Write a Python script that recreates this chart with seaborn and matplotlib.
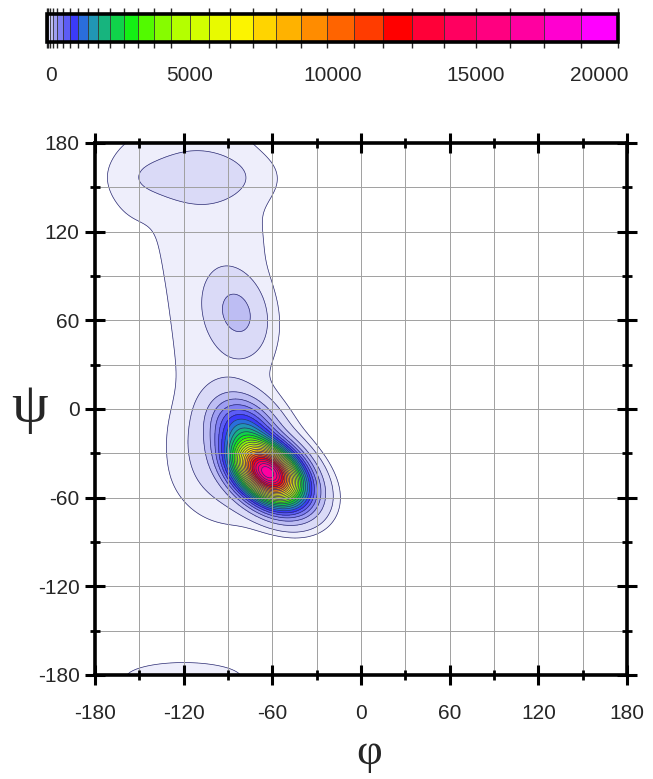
import numpy as np
import matplotlib
matplotlib.use("Agg")
import matplotlib.pyplot as plt
import matplotlib.transforms as mtransforms
from matplotlib.colors import ListedColormap, BoundaryNorm
from matplotlib.cm import ScalarMappable
import seaborn as sns

sns.set_theme(style="white")
plt.rcParams["font.family"] = ["Liberation Sans", "DejaVu Sans"]
plt.rcParams["axes.unicode_minus"] = False

# Count levels (box edges of the colour scale)
levels = [0, 22, 89, 200, 356, 556, 800, 1089, 1422, 1800, 2222, 2689, 3200,
          3756, 4356, 5000, 5689, 6422, 7200, 8022, 8889, 9800, 10756, 11756,
          12800, 13889, 15022, 16200, 17422, 18689, 20000]
level_colors = ["#eeeefb", "#dadaf7", "#bdbdf3", "#9e9ef2", "#7f7ff3", "#5c5cf5",
                "#3b3bf8", "#2a6edc", "#2196b4", "#17b47e", "#10d24a", "#14f014",
                "#52fa00", "#86fc00", "#b4ff00", "#d2ff00", "#e8fa00", "#fcf400",
                "#ffd400", "#ffb200", "#ff8c00", "#ff6400", "#ff3c00", "#ff0000",
                "#ff0038", "#ff0060", "#ff0080", "#ff00a0", "#ff00d0", "#ff00ff"]
cbar_labels = ["0", "5000", "10000", "15000", "20000"]
cbar_label_at = [140, 5000, 10000, 15000, 19330]

# Population regions of the (phi, psi) map: centre, height, spread, tilt
region_names = ["alpha core", "alpha shoulder", "alpha halo", "alpha base",
                "PII", "beta", "beta edge", "col -40", "col 0", "col 60",
                "col 120", "col 175", "bottom strip"]
region_phi = [-63, -78, -80, -68, -84, -112, -155, -93, -93, -96, -102, -112, -120]
region_psi = [-43, -18, -30, -52, 65, 157, 155, -40, 0, 60, 120, 175, -182]
region_height = [17000, 1500, 60, 12, 115, 34, 7, 10, 10, 10, 10, 10, 14]
region_sd_phi = [12, 11, 20, 28, 10.5, 26, 12, 22, 22, 24, 28, 26, 30]
region_sd_psi = [11, 12, 18, 14, 14, 11, 20, 25, 35, 35, 35, 30, 8]
region_rho = [-0.4, -0.3, -0.2, -0.2, -0.2, 0.0, 0.0, 0, 0, 0, 0, 0, 0]
nonzero_floor = 6

axis_ticks = [-180, -120, -60, 0, 60, 120, 180]

phi = np.arange(-180, 180.5, 1.0)
psi = np.arange(-180, 180.5, 1.0)
PHI, PSI = np.meshgrid(phi, psi)
counts = np.zeros_like(PHI)
for cp, cs, h, sp, ss, r in zip(region_phi, region_psi, region_height,
                                region_sd_phi, region_sd_psi, region_rho):
    dx = (PHI - cp) / sp
    dy = (PSI - cs) / ss
    q = (dx ** 2 - 2 * r * dx * dy + dy ** 2) / (1 - r ** 2)
    counts += h * np.exp(-q / 2)

W, H = 653, 779
fig = plt.figure(figsize=(W / 100, H / 100), dpi=100)
ax = fig.add_axes([95 / W, 1 - 675 / H, 532 / W, 532 / H])

palette = sns.color_palette(level_colors)
draw_levels = [nonzero_floor] + levels[1:]
ax.contourf(PHI, PSI, counts, levels=draw_levels, colors=palette, zorder=1)
ax.contour(PHI, PSI, counts, levels=draw_levels, colors="#2b2b70",
           linewidths=0.5, zorder=1.5)

ax.set_xlim(-180, 180)
ax.set_ylim(-180, 180)
ax.set_xticks(axis_ticks)
ax.set_yticks(axis_ticks)
ax.set_xticks(np.arange(-150, 180, 60), minor=True)
ax.set_yticks(np.arange(-150, 180, 60), minor=True)
ax.set_axisbelow(False)
ax.grid(True, which="both", color="#a0a0a0", linewidth=0.7, zorder=2)
for s in ax.spines.values():
    s.set_linewidth(2.6)
    s.set_color("black")
    s.set_zorder(5)
ax.tick_params(which="major", direction="inout", length=14, width=2.2,
               top=True, right=True, bottom=True, left=True, color="black",
               labelsize=15, zorder=6)
ax.tick_params(which="minor", direction="inout", length=7.5, width=2.0,
               top=True, right=True, bottom=True, left=True, color="black")
ax.tick_params(axis="x", which="major", pad=14)
ax.tick_params(axis="y", which="major", pad=4)
ax.set_xlabel("")
ax.set_ylabel("")

fig.text(369 / W, 1 - 753 / H, "φ", fontsize=32, family="Liberation Serif",
         ha="center", va="center")
fig.text(30 / W, 1 - 408 / H, "ψ", fontsize=42, family="Liberation Serif",
         ha="center", va="center")

# Colour scale bar
cax = fig.add_axes([47 / W, 1 - 42 / H, 571 / W, 28 / H])
cmap = ListedColormap(level_colors)
norm = BoundaryNorm(levels, cmap.N)
cb = fig.colorbar(ScalarMappable(norm=norm, cmap=cmap), cax=cax,
                  orientation="horizontal", spacing="proportional",
                  drawedges=True)
cb.outline.set_linewidth(2.6)
cb.outline.set_color("black")
cb.dividers.set_color("#333333")
cb.dividers.set_linewidth(0.6)
cb.set_ticks([5000, 10000, 15000])
cax.xaxis.set_ticks_position("both")
cax.tick_params(direction="in", length=7, width=2.4, color="black",
                labelbottom=False, labeltop=False)
trans = mtransforms.blended_transform_factory(cax.transData, cax.transAxes)
for x, lab in zip(cbar_label_at, cbar_labels):
    cax.text(x, -1.18, lab, transform=trans, ha="center", va="center",
             fontsize=15)

fig.savefig("out.png", dpi=100)
